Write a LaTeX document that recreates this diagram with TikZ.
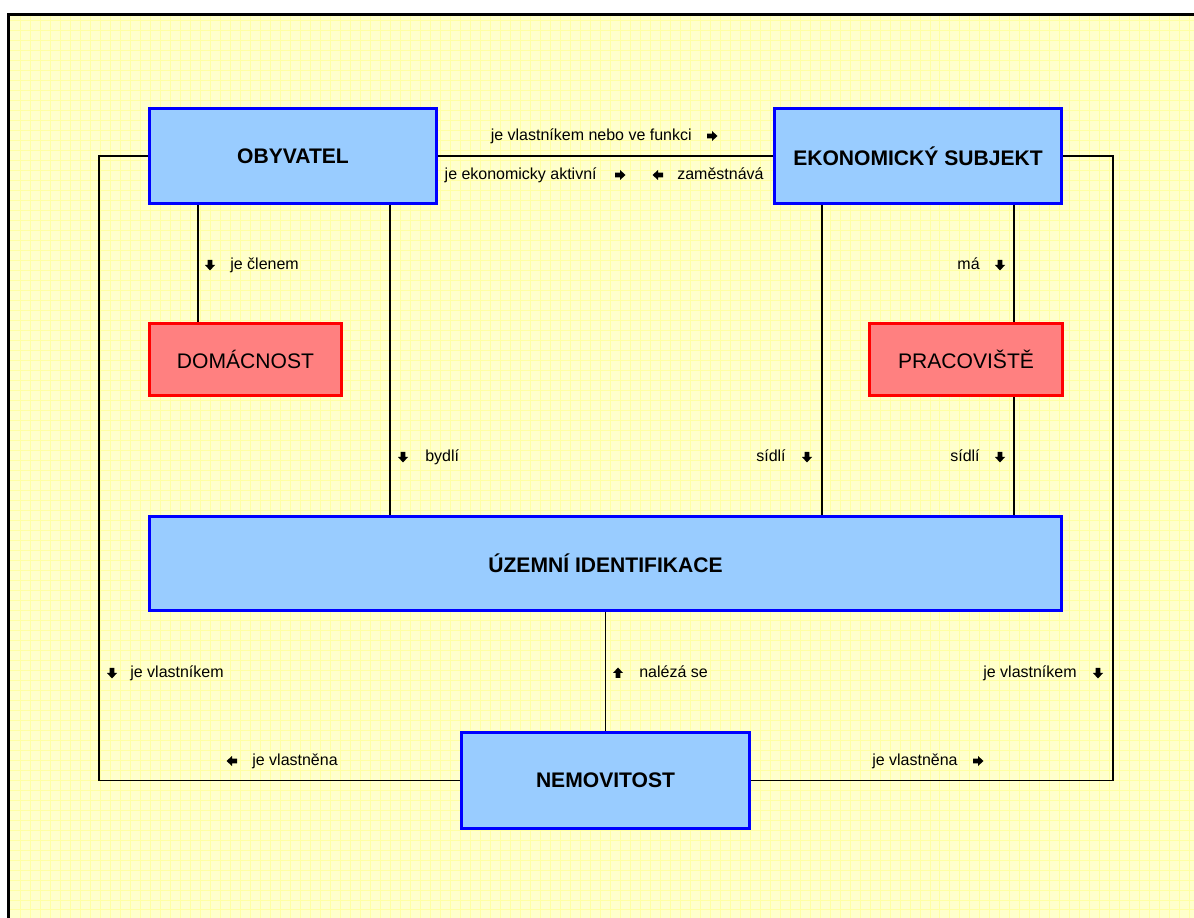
\documentclass[tikz,border=0pt]{standalone}
\usepackage{fontspec}
\setmainfont{Liberation Sans}
\usetikzlibrary{calc}
\usepackage{xcolor}

\newcommand{\pxu}{0.02cm}
\definecolor{boxblue}{HTML}{99CCFF}
\definecolor{boxred}{HTML}{FF8080}
\definecolor{paper}{HTML}{FFFFCC}
\definecolor{paperline}{HTML}{FFFF99}

\begin{document}
\begin{tikzpicture}[x=\pxu,y=-\pxu,
    entity/.style={draw=blue,fill=boxblue,line width=3*\pxu,inner sep=0,
      font=\fontsize{12}{14}\selectfont\bfseries},
    subentity/.style={draw=red,fill=boxred,line width=3*\pxu,inner sep=0,
      font=\fontsize{12}{14}\selectfont},
    rel/.style={line width=1pt},
    lbl/.style={inner sep=0,text height=6.5pt,text depth=1.8pt,
      font=\fontsize{9.1}{11}\selectfont},
    blk/.pic={\fill (-5,-2.3) -- (0,-2.3) -- (0,-5) -- (5.5,0) -- (0,5)
      -- (0,2.3) -- (-5,2.3) -- cycle;}]
    \useasboundingbox (0,0) rectangle (1194,918);

    % podklad
    \fill[paper] (10,16) rectangle (1194,918);
    \draw[paperline!80!paper,line width=0.35pt,step=0.2cm] (10,16) grid (1194,918);
    \draw[line width=3*\pxu] (8.5,918) -- (8.5,14.5) -- (1194,14.5);

    % entity
    \node[entity,minimum width=287*\pxu,minimum height=95*\pxu] (obyv) at (293,156) {OBYVATEL};
    \node[entity,minimum width=287*\pxu,minimum height=95*\pxu] (ekon) at (918,156) {EKONOMICKÝ SUBJEKT};
    \node[subentity,minimum width=192*\pxu,minimum height=72*\pxu] (dom) at (245.5,359.5) {DOMÁCNOST};
    \node[subentity,minimum width=193*\pxu,minimum height=72*\pxu] (prac) at (966,359.5) {PRACOVIŠTĚ};
    \node[entity,minimum width=912*\pxu,minimum height=94*\pxu] (uzem) at (605.5,563.5) {ÚZEMNÍ IDENTIFIKACE};
    \node[entity,minimum width=288*\pxu,minimum height=96*\pxu] (nem) at (605.5,780.5) {NEMOVITOST};

    % vazby
    \coordinate (lrail) at (99,0);
    \coordinate (rrail) at (1113,0);
    \coordinate (x1) at (198,0);
    \coordinate (x2) at (390,0);
    \coordinate (x3) at (822,0);
    \coordinate (x4) at (1014,0);

    \draw[rel] (obyv.east) -- (ekon.west);
    \draw[rel] (obyv.west) -- (obyv.west -| lrail) -- (nem.west -| lrail) -- (nem.west);
    \draw[rel] (ekon.east) -- (ekon.east -| rrail) -- (nem.east -| rrail) -- (nem.east);
    \draw[rel] (obyv.south -| x1) -- (dom.north -| x1);
    \draw[rel] (obyv.south -| x2) -- (uzem.north -| x2);
    \draw[rel] (ekon.south -| x3) -- (uzem.north -| x3);
    \draw[rel] (ekon.south -| x4) -- (prac.north -| x4);
    \draw[rel] (prac.south -| x4) -- (uzem.north -| x4);
    \draw[rel] (uzem.south) -- (nem.north);

    % popisky
    \node[lbl,anchor=east] (vlfun) at (692,136) {je vlastníkem nebo ve funkci};
    \pic at ($(vlfun.east)+(20,0)$) {blk};
    \node[lbl,anchor=east] (aktiv) at (597,175) {je ekonomicky aktivní};
    \pic at ($(aktiv.east)+(23,0)$) {blk};
    \node[lbl,anchor=west] (zames) at (677,175) {zaměstnává};
    \pic[rotate=180] at ($(zames.west)+(-19,0)$) {blk};

    \node[lbl,anchor=west] (clen) at (230,265) {je členem};
    \pic[rotate=-90] at ($(clen.west)+(-20,0)$) {blk};
    \node[lbl,anchor=west] (bydli) at (425,457) {bydlí};
    \pic[rotate=-90] at ($(bydli.west)+(-22,0)$) {blk};
    \node[lbl,anchor=east] (sidlia) at (786,457) {sídlí};
    \pic[rotate=-90] at ($(sidlia.east)+(21,0)$) {blk};
    \node[lbl,anchor=east] (ma) at (980,265) {má};
    \pic[rotate=-90] at ($(ma.east)+(20,0)$) {blk};
    \node[lbl,anchor=east] (sidlib) at (980,457) {sídlí};
    \pic[rotate=-90] at ($(sidlib.east)+(20,0)$) {blk};

    \node[lbl,anchor=west] (nalez) at (639,673) {nalézá se};
    \pic[rotate=90] at ($(nalez.west)+(-21,0)$) {blk};
    \node[lbl,anchor=west] (vlasta) at (130,673) {je vlastníkem};
    \pic[rotate=-90] at ($(vlasta.west)+(-18,0)$) {blk};
    \node[lbl,anchor=east] (vlastb) at (1077,673) {je vlastníkem};
    \pic[rotate=-90] at ($(vlastb.east)+(21,0)$) {blk};
    \node[lbl,anchor=west] (vlnea) at (252,761) {je vlastněna};
    \pic[rotate=180] at ($(vlnea.west)+(-20,0)$) {blk};
    \node[lbl,anchor=east] (vlneb) at (958,761) {je vlastněna};
    \pic at ($(vlneb.east)+(20,0)$) {blk};
\end{tikzpicture}
\end{document}
